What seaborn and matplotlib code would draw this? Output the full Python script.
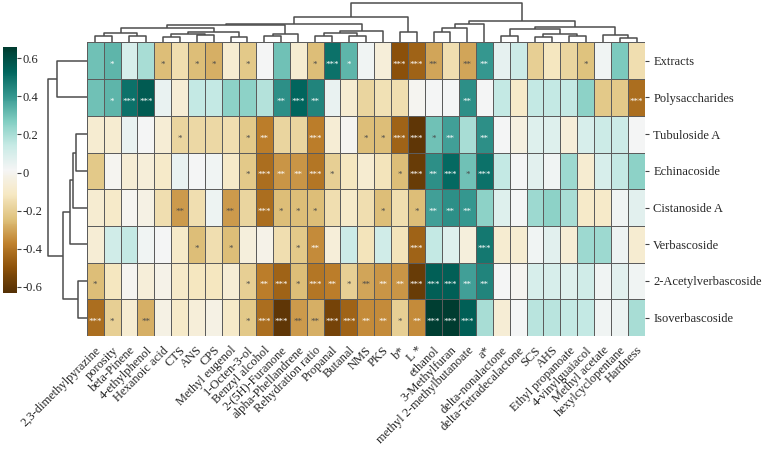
import numpy as np
import pandas as pd
import matplotlib
matplotlib.use("Agg")
import matplotlib.pyplot as plt
import seaborn as sns

sns.set_style("white")
plt.rcParams["font.family"] = ["Liberation Serif", "DejaVu Serif"]

# ---------------- data ----------------
rows = ["Extracts", "Polysaccharides", "Tubuloside A", "Echinacoside",
        "Cistanoside A", "Verbascoside", "2-Acetylverbascoside", "Isoverbascoside"]

cols = ["2,3-dimethylpyrazine", "porosity", "beta-Pinene", "4-ethylphenol", "Hexanoic acid",
        "CTS", "ANS", "CPS", "Methyl eugenol", "1-Octen-3-ol", "Benzyl alcohol",
        "2-(5H)-Furanone", "alpha-Phellandrene", "Rehydration ratio", "Propanal", "Butanal",
        "NMS", "PKS", "b*", "L *", "ethanol", "3-Methylfuran", "methyl 2-methylbutanoate",
        "a*", "delta-nonalactone", "delta-Tetradecalactone", "SCS", "AHS", "Ethyl propanoate",
        "4-vinylguaiacol", "Methyl acetate", "hexylcyclopentane", "Hardness"]

extracts = [0.30, 0.33, 0.10, 0.20, -0.25, -0.15, -0.25, -0.28, -0.08, -0.22, 0.02, 0.30, -0.08,
            -0.25, 0.50, 0.33, 0.03, -0.06, -0.50, -0.45, -0.30, -0.15, -0.30, 0.40, 0.06, 0.13,
            -0.20, -0.12, -0.18, -0.24, 0.03, 0.28, -0.15]
polysaccharides = [0.30, 0.33, 0.50, 0.56, 0.05, -0.07, 0.15, 0.15, 0.25, 0.25, 0.18, 0.42, 0.53,
                   0.45, 0.05, -0.08, -0.18, -0.14, -0.15, 0.00, 0.02, 0.02, 0.42, 0.02, 0.15,
                   -0.10, 0.15, 0.15, 0.15, 0.25, -0.22, -0.22, -0.42]
tubuloside_a = [-0.08, -0.08, 0.05, 0.02, -0.07, -0.18, -0.17, -0.17, -0.15, -0.22, -0.38, -0.18,
                -0.18, -0.38, -0.07, 0.00, -0.25, -0.25, -0.45, -0.60, 0.30, 0.38, 0.20, 0.42,
                0.02, -0.04, 0.08, 0.08, -0.06, 0.10, 0.13, 0.13, 0.02]
echinacoside = [-0.22, 0.00, -0.07, -0.06, -0.10, 0.05, 0.02, 0.03, -0.10, -0.22, -0.42, -0.33,
                -0.33, -0.40, -0.20, -0.12, -0.08, -0.13, -0.25, -0.58, 0.42, 0.52, 0.30, 0.50,
                0.15, 0.02, 0.07, 0.03, 0.22, -0.08, 0.10, 0.15, 0.25]
cistanoside_a = [-0.08, -0.10, 0.00, -0.03, -0.15, -0.32, -0.15, 0.04, -0.32, -0.18, -0.42, -0.25,
                 -0.25, -0.25, -0.15, -0.10, -0.15, -0.25, -0.15, -0.25, 0.38, 0.42, 0.40, 0.25,
                 0.08, 0.02, 0.22, 0.25, 0.20, -0.10, -0.10, 0.03, 0.07]
verbascoside = [-0.07, 0.12, 0.15, 0.03, 0.02, -0.10, -0.25, -0.15, -0.25, -0.05, -0.02, -0.15,
                -0.22, -0.35, -0.06, 0.13, -0.13, 0.12, -0.13, -0.45, 0.15, 0.08, -0.05, 0.48,
                -0.08, -0.08, 0.03, 0.07, -0.07, 0.22, 0.22, 0.04, -0.08]
acetylverbascoside = [-0.25, -0.12, 0.00, -0.06, -0.02, -0.10, -0.12, -0.12, -0.07, -0.20, -0.38,
                      -0.45, -0.25, -0.40, -0.38, -0.20, -0.30, -0.33, -0.33, -0.58, 0.55, 0.55,
                      0.38, 0.45, 0.02, 0.00, 0.10, 0.10, 0.08, 0.12, 0.03, 0.07, 0.03]
isoverbascoside = [-0.42, -0.20, -0.08, -0.28, -0.03, -0.10, -0.06, -0.03, -0.10, -0.22, -0.42,
                   -0.60, -0.32, -0.28, -0.55, -0.45, -0.35, -0.35, -0.20, -0.35, 0.65, 0.66,
                   0.55, 0.20, -0.07, 0.02, 0.17, 0.17, 0.15, 0.15, 0.03, 0.04, 0.20]

# number of significance stars per cell
sig_extracts = "0100101101" "0001310033" "2022000001" "000"
sig_polysaccharides = "0133000000" "0232000000" "0020000000" "003"
sig_tubuloside_a = "0000010001" "2003001133" "1202000000" "000"
sig_echinacoside = "0000000001" "3223100013" "2313000000" "000"
sig_cistanoside_a = "0000020020" "3111000101" "2220000000" "000"
sig_verbascoside = "0000001010" "0012000003" "0003000000" "000"
sig_acetylverbascoside = "1000000001" "2313212223" "3322000000" "000"
sig_isoverbascoside = "3102000001" "3322332212" "3330000000" "000"

# dendrogram trees: leaf index or (left, right, merge height)
row_tree = ((0, 1, 30.0),
            (((((2, 3, 11.0), 4, 13.4), 5, 16.7), (6, 7, 8.4), 24.0)),
            38.4)
col_A1 = (((0, 1, 6.0), (2, 3, 6.0), 9.7),
          ((((4, 5, 5.4), (6, 7, 6.9), 8.4), (8, 9, 5.4), 9.9)),
          14.1)
col_A2 = ((10, 11, 6.4), 12, 8.4)
col_B = ((((13, 14, 6.4), (15, 16, 6.4), 8.9)), 17, 11.4)
col_left = ((((col_A1, col_A2, 16.9)), col_B, 17.9), (18, 19, 9.9), 24.9)
col_R1 = ((((20, 21, 10.1), 22, 14.4)), 23, 18.4)
col_R2 = ((((24, 25, 6.4), ((26, 27, 5.4), (28, 29, 5.9), 8.4), 12.9)),
          ((30, (31, 32, 4.4), 7.4)), 15.4)
col_tree = (col_left, (col_R1, col_R2, 21.4), 39.1)

# ---------------- figure ----------------
values = [extracts, polysaccharides, tubuloside_a, echinacoside, cistanoside_a,
          verbascoside, acetylverbascoside, isoverbascoside]
sigs = [sig_extracts, sig_polysaccharides, sig_tubuloside_a, sig_echinacoside,
        sig_cistanoside_a, sig_verbascoside, sig_acetylverbascoside, sig_isoverbascoside]
df = pd.DataFrame(values, index=rows, columns=cols)

W, H = 767, 453
fig = plt.figure(figsize=(W / 100, H / 100), dpi=100)


def box(x0, y0, x1, y1):
    return [x0 / W, 1 - y1 / H, (x1 - x0) / W, (y1 - y0) / H]


ax = fig.add_axes(box(86.7, 42.4, 645, 336))
cax = fig.add_axes(box(2.7, 46.7, 17.3, 292.7))
rax = fig.add_axes(box(40, 42.4, 86.7, 336))
tax = fig.add_axes(box(86.7, 0, 645, 42.4))

sns.heatmap(df, ax=ax, cmap="BrBG", vmin=-0.63, vmax=0.66, linewidths=0.6,
            linecolor="#5c5c5c", cbar_ax=cax,
            cbar_kws=dict(ticks=[-0.6, -0.4, -0.2, 0, 0.2, 0.4, 0.6]))

ax.set_xlabel("")
ax.set_ylabel("")
ax.yaxis.tick_right()
ax.set_yticks(np.arange(len(rows)) + 0.5)
ax.set_yticklabels(rows, rotation=0, fontsize=9)
ax.set_xticks(np.arange(len(cols)) + 0.5)
ax.set_xticklabels(cols, rotation=45, ha="right", rotation_mode="anchor", fontsize=9)
ax.tick_params(axis="both", length=3, width=0.8, color="#444444", pad=3)

for i, srow in enumerate(sigs):
    for j, ch in enumerate(srow):
        n = int(ch)
        if n:
            v = values[i][j]
            c = "white" if abs(v) >= 0.33 else "#4a4a4a"
            ax.text(j + 0.5, i + 0.62, "*" * n, ha="center", va="center",
                    fontsize=6.5, color=c)

cbar = ax.collections[0].colorbar
cbar.outline.set_visible(False)
cax.set_yticklabels(["-0.6", "-0.4", "-0.2", "0", "0.2", "0.4", "0.6"], fontsize=9)
cax.tick_params(axis="y", length=3, width=0.8, pad=1, color="#444444")


def draw(node, a, orient):
    if isinstance(node, int):
        return node + 0.5, 0.0
    l, r, h = node
    pl, hl = draw(l, a, orient)
    pr, hr = draw(r, a, orient)
    if orient == "top":
        a.plot([pl, pl, pr, pr], [hl, h, h, hr], color="#4d4d4d", lw=1.1,
               solid_capstyle="butt")
    else:
        a.plot([hl, h, h, hr], [pl, pl, pr, pr], color="#4d4d4d", lw=1.1,
               solid_capstyle="butt")
    return (pl + pr) / 2, h


draw(row_tree, rax, "left")
rax.set_xlim(46.7, 0)
rax.set_ylim(len(rows), 0)
rax.axis("off")

draw(col_tree, tax, "top")
tax.set_xlim(0, len(cols))
tax.set_ylim(0, 42.4)
tax.axis("off")

fig.savefig("out.png", dpi=100)
